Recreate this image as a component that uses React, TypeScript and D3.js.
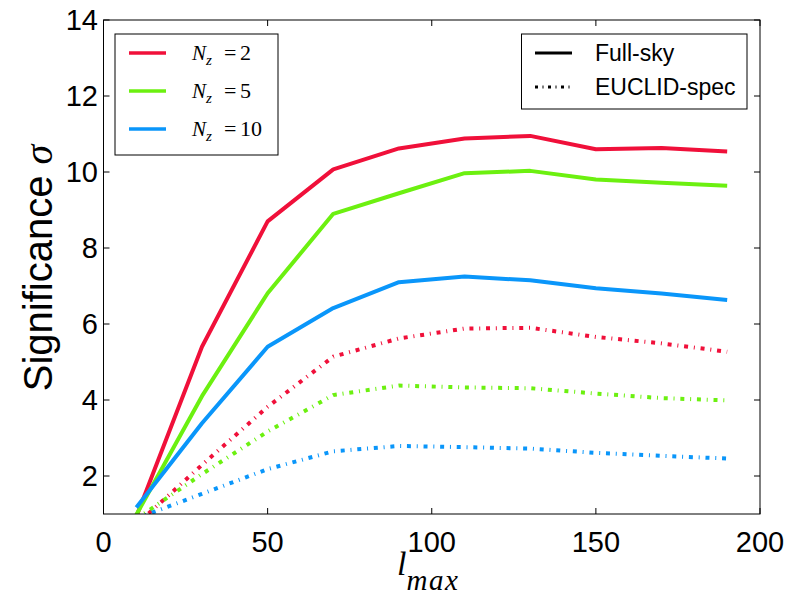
import React from "react";
import * as d3 from "d3";

const lmax = [10, 30, 50, 70, 90, 110, 130, 150, 170, 190];

const fullNz2 = [0.93, 5.4, 8.7, 10.07, 10.62, 10.88, 10.95, 10.6, 10.63, 10.54];
const fullNz5 = [0.98, 4.1, 6.81, 8.9, 9.44, 9.97, 10.03, 9.8, 9.72, 9.64];
const fullNz10 = [1.17, 3.39, 5.4, 6.42, 7.1, 7.25, 7.15, 6.94, 6.8, 6.63];

const euclidNz2 = [0.72, 2.29, 3.82, 5.14, 5.62, 5.88, 5.9, 5.66, 5.49, 5.27];
const euclidNz5 = [0.87, 2.05, 3.17, 4.13, 4.38, 4.33, 4.31, 4.17, 4.05, 3.99];
const euclidNz10 = [0.88, 1.53, 2.18, 2.65, 2.79, 2.76, 2.72, 2.61, 2.53, 2.46];

const nzLabels = ["2", "5", "10"];
const seriesColors = ["#f0103a", "#6cf010", "#0a96fa"];
const xTicks = [0, 50, 100, 150, 200];
const yTicks = [2, 4, 6, 8, 10, 12, 14];

const W = 789;
const H = 595;
const left = 103.5;
const right = 760;
const top = 20;
const bottom = 514;

export default function App() {
  const x = d3.scaleLinear().domain([0, 200]).range([left, right]);
  const y = d3.scaleLinear().domain([1, 14]).range([bottom, top]);
  const line = d3
    .line<number>()
    .x((_, i) => x(lmax[i]))
    .y((d) => y(d));

  const full = [fullNz2, fullNz5, fullNz10];
  const euclid = [euclidNz2, euclidNz5, euclidNz10];
  const dash = "4 5.8 1 5.8";
  const sans = "'Liberation Sans', Arial, sans-serif";
  const serif = "'Liberation Serif', 'Times New Roman', serif";

  return (
    <svg
      width={W}
      height={H}
      style={{ position: "fixed", left: 0, top: 0, background: "#fff" }}
    >
      <defs>
        <clipPath id="plotclip">
          <rect x={left} y={top} width={right - left} height={bottom - top} />
        </clipPath>
      </defs>
      <rect x={0} y={0} width={W} height={H} fill="#fff" />
      <g clipPath="url(#plotclip)" fill="none">
        {full.map((s, i) => (
          <path
            key={"f" + i}
            d={line(s) || ""}
            stroke={seriesColors[i]}
            strokeWidth={4}
            strokeLinejoin="round"
          />
        ))}
        {euclid.map((s, i) => (
          <path
            key={"e" + i}
            d={line(s) || ""}
            stroke={seriesColors[i]}
            strokeWidth={4}
            strokeDasharray={dash}
            strokeLinecap="butt"
          />
        ))}
      </g>
      <rect
        x={left}
        y={top}
        width={right - left}
        height={bottom - top}
        fill="none"
        stroke="#000"
        strokeWidth={1}
      />
      {xTicks.map((t) => (
        <g key={"xt" + t}>
          <line x1={x(t)} x2={x(t)} y1={bottom} y2={bottom - 6} stroke="#000" />
          <line x1={x(t)} x2={x(t)} y1={top} y2={top + 6} stroke="#000" />
          <text
            x={x(t)}
            y={552}
            textAnchor="middle"
            fontFamily={sans}
            fontSize={29}
            fill="#000"
          >
            {t}
          </text>
        </g>
      ))}
      {yTicks.map((t) => (
        <g key={"yt" + t}>
          <line x1={left} x2={left + 6} y1={y(t)} y2={y(t)} stroke="#000" />
          <line x1={right} x2={right - 6} y1={y(t)} y2={y(t)} stroke="#000" />
          <text
            x={98}
            y={y(t)}
            dy="0.36em"
            textAnchor="end"
            fontFamily={sans}
            fontSize={29}
            fill="#000"
          >
            {t}
          </text>
        </g>
      ))}
      <text
        transform={`translate(52,${(top + bottom) / 2 + 1}) rotate(-90)`}
        textAnchor="middle"
        fontFamily={sans}
        fontSize={40}
        fill="#000"
      >
        Significance{" "}
        <tspan fontFamily={serif} fontStyle="italic">
          σ
        </tspan>
      </text>
      <text x={397} y={575} fontFamily={serif} fontStyle="italic" fontSize={34} fill="#000">
        l
        <tspan fontSize={29} dy={15} letterSpacing={1.5}>
          max
        </tspan>
      </text>
      <rect x={115} y={34} width={163} height={121} fill="#fff" stroke="#000" strokeWidth={1} />
      {nzLabels.map((lab, i) => {
        const ly = 53 + i * 38;
        return (
          <g key={"lg" + i}>
            <line x1={129} x2={166} y1={ly} y2={ly} stroke={seriesColors[i]} strokeWidth={3.5} />
            <text x={192} y={ly + 7} fontFamily={serif} fontSize={21} fill="#000">
              <tspan fontStyle="italic">N</tspan>
              <tspan fontStyle="italic" fontSize={15} dy={5}>
                z
              </tspan>
            </text>
            <text x={224} y={ly + 7} fontFamily={serif} fontSize={22} fill="#000">
              =
            </text>
            <text x={240} y={ly + 7} fontFamily={serif} fontSize={22} fill="#000">
              {lab}
            </text>
          </g>
        );
      })}
      <rect x={521.5} y={34} width={225.5} height={75} fill="#fff" stroke="#000" strokeWidth={1} />
      <line x1={535} x2={572} y1={53} y2={53} stroke="#000" strokeWidth={3} />
      <text x={595} y={53} dy="0.36em" fontFamily={sans} fontSize={23} fill="#000">
        Full-sky
      </text>
      <line
        x1={535}
        x2={572}
        y1={87}
        y2={87}
        stroke="#000"
        strokeWidth={3}
        strokeDasharray="3 4.5 1 4.5"
      />
      <text x={595} y={87} dy="0.36em" fontFamily={sans} fontSize={23} fill="#000">
        EUCLID-spec
      </text>
    </svg>
  );
}
